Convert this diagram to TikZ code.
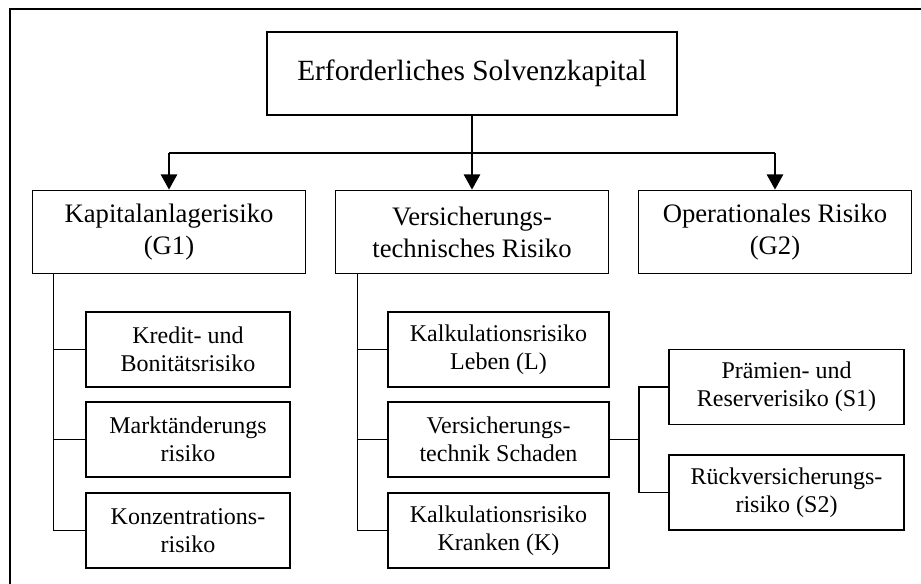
\documentclass[tikz,border=0pt]{standalone}
\usepackage{fontspec}
\setmainfont{Liberation Serif}
\usetikzlibrary{arrows.meta}

\tikzset{
  topbox/.style={draw,line width=1.2pt,inner sep=0pt,align=center,minimum width=307.5pt,minimum height=62.25pt,font=\fontsize{22}{26}\selectfont},
  mainbox/.style={draw,line width=1.2pt,inner sep=0pt,align=center,minimum width=205pt,minimum height=62.25pt,font=\fontsize{20}{24}\selectfont},
  subbox/.style={draw,line width=1.2pt,inner sep=0pt,align=center,minimum height=56.5pt,font=\fontsize{18}{21}\selectfont},
  tree/.style={line width=1.2pt},
  bar/.style={line width=1.6pt},
  down/.style={line width=2.2pt,-{Triangle[width=12pt,length=11.5pt]}}
}

\begin{document}
\begin{tikzpicture}[x=0.75pt,y=0.75pt,yscale=-1,xscale=1]
\useasboundingbox (0,0) rectangle (921,584);

%Shape: Frame (open at right and bottom)
\draw [line width=1.5pt] (921,9) -- (10,9) -- (10,584) ;

% Top node
\node [topbox] (sk) at (472,73.5) {Erforderliches Solvenzkapital};

% Main risk nodes
\node [mainbox] (ka) at (169,232) {Kapitalanlagerisiko\\(G1)};
\node [mainbox] (vt) at (472,232) {Versicherungs-\\technisches Risiko};
\node [mainbox] (op) at (775,232) {Operationales Risiko\\(G2)};

% Sub nodes left
\node [subbox,minimum width=153pt] (kb) at (188,349.5) {Kredit- und\\Bonitätsrisiko};
\node [subbox,minimum width=153pt] (ma) at (188,439.5) {Marktänderungs\\risiko};
\node [subbox,minimum width=153pt] (ko) at (188,530.5) {Konzentrations-\\risiko};

% Sub nodes middle
\node [subbox,minimum width=165.75pt] (kl) at (498.5,349.5) {Kalkulationsrisiko\\Leben (L)};
\node [subbox,minimum width=165.75pt] (vs) at (498.5,439.5) {Versicherungs-\\technik Schaden};
\node [subbox,minimum width=165.75pt] (kk) at (498.5,530.5) {Kalkulationsrisiko\\Kranken (K)};

% Sub nodes right
\node [subbox,minimum width=176.25pt] (pr) at (786.5,387) {Prämien- und\\Reserverisiko (S1)};
\node [subbox,minimum width=176.25pt] (rv) at (786.5,492.5) {Rückversicherungs-\\risiko (S2)};

% Arrows
\coordinate (split) at (472,153);
\draw [bar] (ka.north |- split) -- (op.north |- split) ;
\draw [down] (sk.south) -- (vt.north) ;
\draw [down] (ka.north |- split) -- (ka.north) ;
\draw [down] (op.north |- split) -- (op.north) ;

% Tree lines
\foreach \n in {kb,ma,ko}
  \draw [tree] ([xshift=16.5pt]ka.south west) |- (\n.west) ;
\foreach \n in {kl,vs,kk}
  \draw [tree] ([xshift=17.25pt]vt.south west) |- (\n.west) ;
\draw [tree] (vs.east) -- ++(29,0) coordinate (fork) ;
\draw [tree] (fork) |- (pr.west) ;
\draw [tree] (fork) |- (rv.west) ;
\end{tikzpicture}
\end{document}
